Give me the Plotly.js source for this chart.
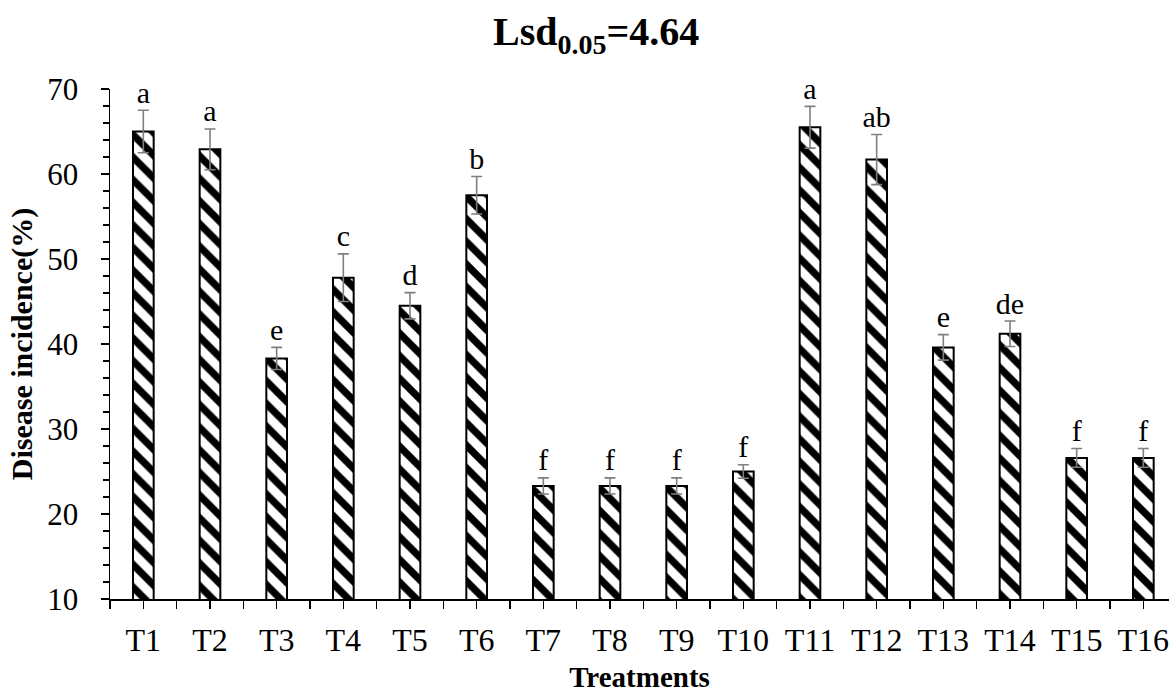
<!DOCTYPE html>
<html>
<head>
<meta charset="utf-8">
<script src="https://cdn.plot.ly/plotly-3.0.1.min.js"></script>
<style>html,body{margin:0;padding:0;background:#fff;}#chart{width:1169px;height:693px;}</style>
</head>
<body>
<div id="chart"></div>
<script>
const categories = ["T1","T2","T3","T4","T5","T6","T7","T8","T9","T10","T11","T12","T13","T14","T15","T16"];
const incidence = [65.0, 62.9, 38.3, 47.8, 44.5, 57.5, 23.3, 23.3, 23.3, 25.0, 65.5, 61.7, 39.6, 41.2, 26.6, 26.6];
const errors = [2.5, 2.4, 1.3, 2.8, 1.55, 2.2, 0.95, 0.95, 0.95, 0.8, 2.45, 2.95, 1.5, 1.5, 1.1, 1.1];
const letters = ["a","a","e","c","d","b","f","f","f","f","a","ab","e","de","f","f"];
const titleText = "<b>Lsd<sub>0.05</sub>=4.64</b>";
const xTitle = "Treatments";
const yTitle = "Disease incidence(%)";

const xs = categories.map((_, i) => i);
const serif = "Liberation Serif, Times New Roman, serif";

const bars = {
  type: "bar",
  x: xs,
  y: incidence,
  width: 0.31,
  marker: {
    color: "#ffffff",
    line: {color: "#000000", width: 2},
    pattern: {shape: "\\", fgcolor: "#000000", bgcolor: "#ffffff", size: 16, solidity: 0.45}
  },
  error_y: {type: "data", array: errors, visible: true, color: "#7f7f7f", thickness: 1.6, width: 5.5},
  hoverinfo: "skip",
  showlegend: false
};

const labels = {
  type: "scatter",
  mode: "text",
  x: xs,
  y: incidence.map((v, i) => v + errors[i]),
  text: letters,
  textposition: "top center",
  textfont: {family: serif, size: 30, color: "#000000"},
  hoverinfo: "skip",
  showlegend: false,
  cliponaxis: false
};

const layout = {
  width: 1169,
  height: 693,
  paper_bgcolor: "#ffffff",
  plot_bgcolor: "#ffffff",
  margin: {l: 110, r: 0, t: 89, b: 94},
  font: {family: serif, color: "#000000"},
  title: {
    text: titleText,
    font: {family: serif, size: 40, color: "#000000"},
    x: 0.51, xref: "container", xanchor: "center",
    y: 0.975, yref: "container", yanchor: "top"
  },
  xaxis: {
    range: [-0.5, 15.385],
    tickmode: "array",
    tickvals: xs,
    ticktext: categories,
    ticks: "outside",
    ticklen: 8,
    tickwidth: 1.5,
    tickcolor: "#000000",
    ticklabelstandoff: 4,
    ticklabeloverflow: "allow",
    minor: {tick0: -0.5, dtick: 0.5, ticks: "outside", ticklen: 8, tickwidth: 1.5, tickcolor: "#000000", showgrid: false},
    showline: true,
    linecolor: "#000000",
    linewidth: 2,
    showgrid: false,
    zeroline: false,
    tickfont: {family: serif, size: 32, color: "#000000"},
    title: {text: "<b>" + xTitle + "</b>", font: {family: serif, size: 29, color: "#000000"}, standoff: 9},
    fixedrange: true
  },
  yaxis: {
    range: [10, 70],
    tick0: 10,
    dtick: 10,
    ticks: "outside",
    ticklen: 8,
    tickwidth: 1.5,
    tickcolor: "#000000",
    ticklabelstandoff: 16,
    minor: {dtick: 2, ticks: "outside", ticklen: 6, tickwidth: 1.5, tickcolor: "#000000", showgrid: false},
    showline: true,
    linecolor: "#000000",
    linewidth: 1.5,
    showgrid: false,
    zeroline: false,
    tickfont: {family: serif, size: 31, color: "#000000"},
    title: {text: "<b>" + yTitle + "</b>", font: {family: serif, size: 30, color: "#000000"}, standoff: 6},
    fixedrange: true
  },
  bargap: 0.6
};

Plotly.newPlot("chart", [bars, labels], layout, {displayModeBar: false, staticPlot: true});
</script>
</body>
</html>
